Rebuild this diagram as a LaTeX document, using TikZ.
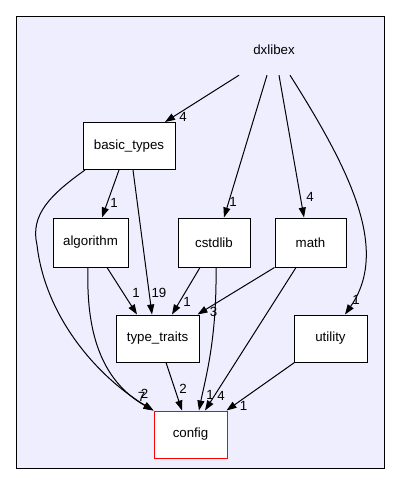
\documentclass[tikz,border=0pt]{standalone}
\usepackage{fontspec}
\setmainfont{Liberation Sans}
\usepackage{xcolor}
\usetikzlibrary{arrows.meta}
\definecolor{clusterbg}{HTML}{EEEEFF}

\begin{document}
\begin{tikzpicture}[
  x=1pt, y=-1pt,
  >={Triangle[length=10pt,width=7pt]},
  every node/.style={font=\fontsize{13.3}{16}\selectfont},
  dirbox/.style={draw, fill=white, inner sep=0pt, line width=1pt},
  lbl/.style={inner sep=0pt, pos=1},
  dep/.style={->, line width=1pt}
]
\useasboundingbox (0,0) rectangle (400,485);
\draw[fill=clusterbg, line width=1pt] (16,16) rectangle (384,468);

\node (dxlibex) [inner sep=0pt, minimum width=75pt, minimum height=50pt] at (274,50) {dxlibex};
\node (basic_types) [dirbox, minimum width=92pt, minimum height=47pt] at (129,146) {basic\_types};
\node (algorithm)   [dirbox, minimum width=75pt, minimum height=49pt] at (90.5,242.5) {algorithm};
\node (cstdlib)     [dirbox, minimum width=72pt, minimum height=49pt] at (214,242.5) {cstdlib};
\node (math)        [dirbox, minimum width=71pt, minimum height=49pt] at (310.5,242.5) {math};
\node (type_traits) [dirbox, minimum width=83pt, minimum height=47pt] at (157.5,338.5) {type\_traits};
\node (utility)     [dirbox, minimum width=73pt, minimum height=47pt] at (330.5,338.5) {utility};
\node (config)      [dirbox, draw=red, minimum width=73pt, minimum height=47pt] at (190.5,434.5) {config};

\draw[dep] ([xshift=-35pt]dxlibex.south) -- ([xshift=36pt]basic_types.north)
  node[lbl, xshift=18pt, yshift=5.5pt] {4};
\draw[dep] ([xshift=-7pt]dxlibex.south) -- ([xshift=10pt]cstdlib.north)
  node[lbl, xshift=9pt, yshift=16pt] {1};
\draw[dep] ([xshift=5pt]dxlibex.south) -- ([xshift=-6.5pt]math.north)
  node[lbl, xshift=6pt, yshift=21pt] {4};
\draw[dep] ([xshift=16pt]dxlibex.south) .. controls (350,170) and (390,250) .. ([xshift=14.5pt]utility.north)
  node[lbl, xshift=11pt, yshift=15pt] {1};

\draw[dep] ([xshift=-10pt]basic_types.south) -- ([xshift=11.5pt]algorithm.north)
  node[lbl, xshift=12pt, yshift=15pt] {1};
\draw[dep] ([xshift=4pt]basic_types.south) -- ([xshift=-5.5pt]type_traits.north)
  node[lbl, xshift=7pt, yshift=22pt] {19};
\draw[dep] ([xshift=-44pt]basic_types.south) .. controls (50,195) and (30,215) .. (37,245)
  .. controls (45,315) and (95,375) .. (config.north west)
  node[lbl, xshift=-12pt, yshift=14pt] {7};

\draw[dep] ([xshift=-2.5pt]algorithm.south) .. controls (86,330) and (100,380) .. (config.north west)
  node[lbl, xshift=-9pt, yshift=17pt] {2};
\draw[dep] ([xshift=16.5pt]algorithm.south) -- ([xshift=-20.5pt]type_traits.north)
  node[lbl, xshift=-1pt, yshift=22pt] {1};

\draw[dep] ([xshift=-14pt]cstdlib.south) -- ([xshift=14.5pt]type_traits.north)
  node[lbl, xshift=15pt, yshift=13pt] {1};
\draw[dep] ([xshift=2pt]cstdlib.south) .. controls (217,340) and (205,380) .. ([xshift=8.5pt]config.north)
  node[lbl, xshift=11pt, yshift=16pt] {1};

\draw[dep] (math.south west) -- ([xshift=-2pt]type_traits.north east)
  node[lbl, xshift=16pt, yshift=3pt] {3};
\draw[dep] ([xshift=-14.5pt]math.south) -- ([xshift=14.5pt]config.north)
  node[lbl, xshift=16pt, yshift=15pt] {4};

\draw[dep] ([xshift=8.5pt]type_traits.south) -- ([xshift=-8.5pt]config.north)
  node[lbl, xshift=1pt, yshift=22pt] {2};
\draw[dep] ([xshift=1pt]utility.south west) -- ([xshift=-1pt]config.north east)
  node[lbl, xshift=17pt, yshift=5pt] {1};
\end{tikzpicture}
\end{document}
